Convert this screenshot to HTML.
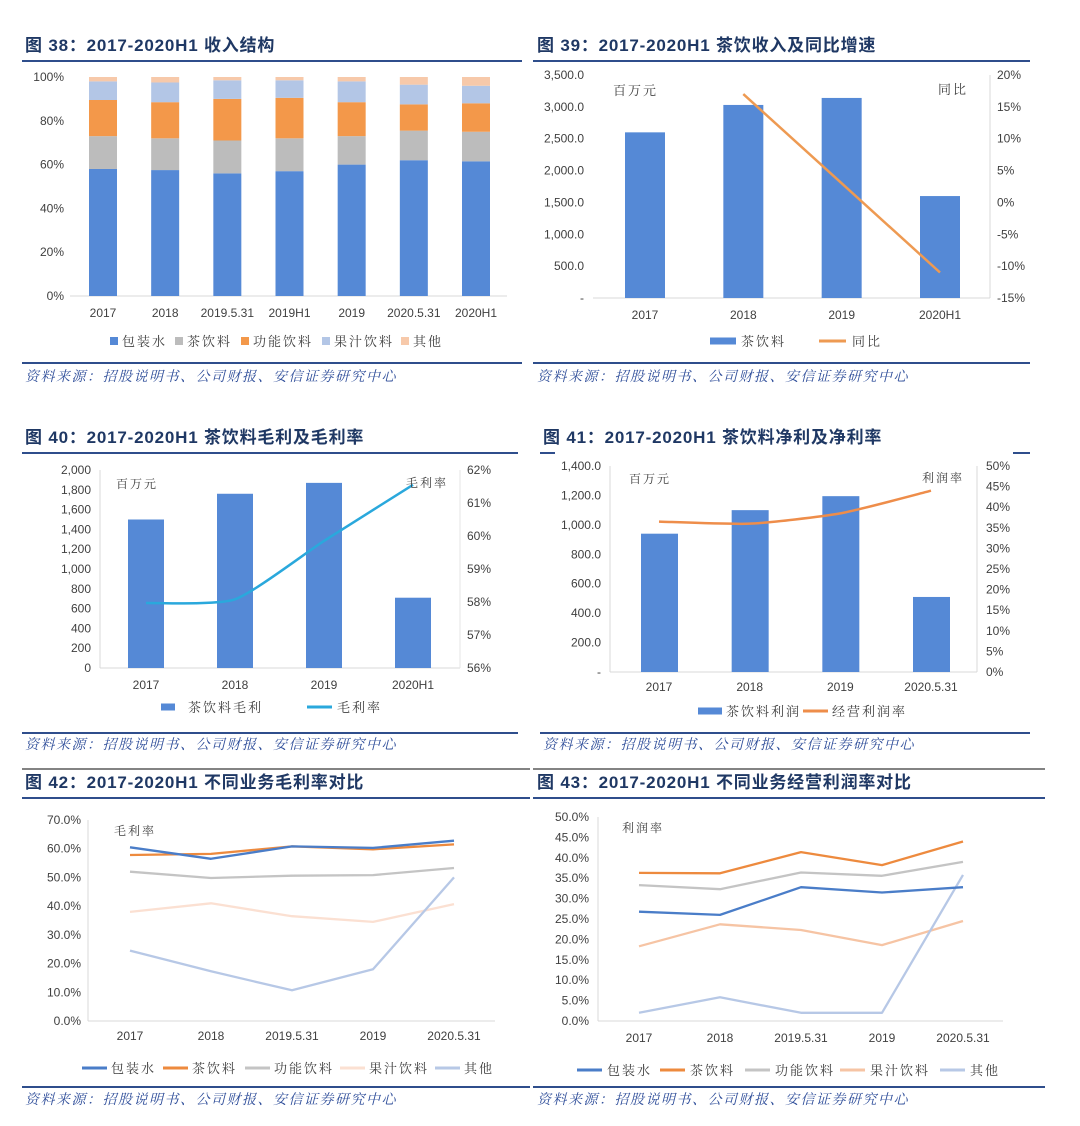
<!DOCTYPE html>
<html><head><meta charset="utf-8">
<style>
html,body{margin:0;padding:0;background:#fff;}
body{width:1080px;height:1126px;position:relative;overflow:hidden;font-family:"Liberation Sans","Noto Sans CJK SC",sans-serif;}
svg{position:absolute;left:0;top:0;}
</style></head>
<body>
<svg id="s" width="1080" height="1126" viewBox="0 0 1080 1126"></svg>
<script>
// ---- data ----
const cats38 = ['2017','2018','2019.5.31','2019H1','2019','2020.5.31','2020H1'];
const water38 = [58, 57.5, 56, 57, 60, 62, 61.5];
const tea38 = [15, 14.5, 15, 15, 13, 13.5, 13.5];
const func38 = [16.5, 16.5, 19, 18.5, 15.5, 12, 13];
const juice38 = [8.5, 9, 8.5, 8, 9.5, 9, 8];
const other38 = [2, 2.5, 1.5, 1.5, 2, 3.5, 4];
const ticks38 = ['0%','20%','40%','60%','80%','100%'];

const cats39 = ['2017','2018','2019','2020H1'];
const rev39 = [2600, 3030, 3140, 1600];
const yoy39 = [null, 17, 3, -11];
const ticksL39 = ['-','500.0','1,000.0','1,500.0','2,000.0','2,500.0','3,000.0','3,500.0'];
const ticksR39 = ['-15%','-10%','-5%','0%','5%','10%','15%','20%'];

const cats40 = ['2017','2018','2019','2020H1'];
const gp40 = [1500, 1760, 1870, 710];
const gm40 = [57.97, 58.08, 59.85, 61.55];
const ticksL40 = ['0','200','400','600','800','1,000','1,200','1,400','1,600','1,800','2,000'];
const ticksR40 = ['56%','57%','58%','59%','60%','61%','62%'];

const cats41 = ['2017','2018','2019','2020.5.31'];
const np41 = [940, 1100, 1195, 510];
const nm41 = [36.5, 36, 38.5, 44];
const ticksL41 = ['-','200.0','400.0','600.0','800.0','1,000.0','1,200.0','1,400.0'];
const ticksR41 = ['0%','5%','10%','15%','20%','25%','30%','35%','40%','45%','50%'];

const cats42 = ['2017','2018','2019.5.31','2019','2020.5.31'];
const water42 = [60.5, 56.5, 60.8, 60.3, 62.8];
const tea42 = [57.8, 58.2, 60.8, 59.8, 61.5];
const func42 = [52, 49.8, 50.6, 50.8, 53.3];
const juice42 = [38, 41, 36.5, 34.5, 40.7];
const other42 = [24.5, 17.3, 10.7, 18, 50];
const ticks42 = ['0.0%','10.0%','20.0%','30.0%','40.0%','50.0%','60.0%','70.0%'];

const cats43 = ['2017','2018','2019.5.31','2019','2020.5.31'];
const water43 = [26.8, 26, 32.8, 31.5, 32.8];
const tea43 = [36.3, 36.2, 41.4, 38.2, 44];
const func43 = [33.3, 32.3, 36.4, 35.6, 39];
const juice43 = [18.3, 23.7, 22.3, 18.6, 24.5];
const other43 = [2, 5.8, 2, 2, 35.8];
const ticks43 = ['0.0%','5.0%','10.0%','15.0%','20.0%','25.0%','30.0%','35.0%','40.0%','45.0%','50.0%'];

const segNames = ['包装水','茶饮料','功能饮料','果汁饮料','其他'];
</script>
<script>
const S = document.getElementById('s');
const NS = 'http://www.w3.org/2000/svg';
const C = {water:'#5589d6', tea:'#bcbcbc', func:'#f3984a', juice:'#b3c6e6', other:'#f7c9aa',
  lwater:'#4a7dc8', ltea:'#ed8a3e', lfunc:'#c4c4c4', ljuice:'#fbe0d2', lother:'#b7c8e6', bar:'#5589d6'};
const TXT = '#404040', CJK = '"Liberation Serif","Noto Serif CJK SC",serif';
function mk(tag, a, parent){const e=document.createElementNS(NS,tag);for(const k in a)e.setAttribute(k,a[k]);(parent||S).appendChild(e);return e;}
function txt(x,y,s,o){o=o||{};const e=mk('text',{x:x,y:y,'font-size':o.fs||12,fill:o.fill||TXT,'text-anchor':o.anchor||'start','font-family':o.ff||'"Liberation Sans","Noto Sans CJK SC",sans-serif','font-weight':o.fw||'normal','font-style':o.fst||'normal','letter-spacing':o.ls||0});e.textContent=s;return e;}
function lin(x1,y1,x2,y2,c,w){return mk('line',{x1:x1,y1:y1,x2:x2,y2:y2,stroke:c,'stroke-width':w||1});}
function lin2(a,b,min,max){return v=>a+(v-min)/(max-min)*(b-a);}

function header(x,y,t,ux1,ux2,uy){
  const e=txt(x,y,t,{fs:17,fw:'bold',fill:'#1f3864',ls:0.8});
  
  
  if(ux1!=null){const l=lin(ux1,uy,ux2,uy,'#2f4e8c',2);
  
  }
}
function source(x,y,lx1,lx2,ly){
  const l=lin(lx1,ly,lx2,ly,'#2f4e8c',2);
  
  
  const e=txt(x,y,'资料来源：招股说明书、公司财报、安信证券研究中心',{fs:14,fst:'italic',fill:'#2f4e9a',ff:CJK,ls:1.5});
  
  
}
function yTicks(ticks,y0,y1,x,anchor,name){
  ticks.forEach((t,i)=>{const y=y0+(y1-y0)*i/(ticks.length-1);
    const e=txt(x,y+4,t,{anchor:anchor,fs:12});
    
    });
}
function xLabels(cats,xf,y){
  cats.forEach((c,i)=>{const e=txt(xf(i),y,c,{anchor:'middle',fs:12});
    
    });
}
function legBox(x,y,w,h,col,label,tx){
  const r=mk('rect',{x:x,y:y-h/2,width:w,height:h,fill:col});
  
  
  const e=txt(tx,y+5,label,{fs:13,ff:CJK,ls:2});
  
  
}
function legLine(x1,x2,y,col,label,tx){
  const l=lin(x1,y,x2,y,col,3);
  
  
  const e=txt(tx,y+5,label,{fs:13,ff:CJK,ls:2});
  
  
}
function polyline(xs,ys,col,w,name){
  let d='';xs.forEach((x,i)=>{d+=(d?' L':'M')+x.toFixed(1)+' '+ys[i].toFixed(1);});
  const p=mk('path',{d:d,fill:'none',stroke:col,'stroke-width':w||2.5,'stroke-linejoin':'round'});
  
  
}
function smooth(xs,ys,col,w,name){
  let d='M'+xs[0]+' '+ys[0];
  for(let i=0;i<xs.length-1;i++){
    const p0=[xs[Math.max(0,i-1)],ys[Math.max(0,i-1)]],p1=[xs[i],ys[i]],p2=[xs[i+1],ys[i+1]],p3=[xs[Math.min(xs.length-1,i+2)],ys[Math.min(xs.length-1,i+2)]];
    const t=0.1;
    d+=` C${p1[0]+(p2[0]-p0[0])*t} ${p1[1]+(p2[1]-p0[1])*t} ${p2[0]-(p3[0]-p1[0])*t} ${p2[1]-(p3[1]-p1[1])*t} ${p2[0]} ${p2[1]}`;
  }
  const p=mk('path',{d:d,fill:'none',stroke:col,'stroke-width':w||2.5});
  
  
}

// ===== Chart 38 =====
header(25,51,'图 38：2017-2020H1 收入结构',22,522,61);
(function(){
  const y=lin2(296,77,0,100), x0=103, step=(476-103)/6, xf=i=>x0+i*step;
  lin(70,296,507,296,'#d9d9d9',1);
  yTicks(ticks38,300-4,81-4,64,'end','y-tick-label');
  const series=[[water38,C.water,'bar-water'],[tea38,C.tea,'bar-tea'],[func38,C.func,'bar-functional'],[juice38,C.juice,'bar-juice'],[other38,C.other,'bar-other']];
  cats38.forEach((c,i)=>{
    let acc=0;
    series.forEach(s=>{const v=s[0][i];
      const r=mk('rect',{x:xf(i)-14,y:y(acc+v),width:28,height:y(acc)-y(acc+v),fill:s[1]});
      
      
      acc+=v;});
  });
  xLabels(cats38,xf,317);
  const cols=[C.water,C.tea,C.func,C.juice,C.other], lx=[110,175,241,322,401];
  segNames.forEach((n,i)=>legBox(lx[i],341,8,8,cols[i],n,lx[i]+12));
  source(25,381,22,522,363);
})();

// ===== Chart 39 =====
header(537,51,'图 39：2017-2020H1 茶饮收入及同比增速',533,1030,61);
(function(){
  const yl=lin2(298,75,0,3500), yr=lin2(298,75,-15,20), x0=645, step=(940-645)/3, xf=i=>x0+i*step;
  lin(593,298,990,298,'#d9d9d9',1); lin(990,75,990,298,'#d9d9d9',1);
  yTicks(ticksL39,302-4,79-4,584,'end','y-left-tick-label');
  yTicks(ticksR39,302-4,79-4,997,'start','y-right-tick-label');
  rev39.forEach((v,i)=>{const r=mk('rect',{x:xf(i)-20,y:yl(v),width:40,height:yl(0)-yl(v),fill:C.bar});
    
    });
  const xs=[],ys=[];yoy39.forEach((v,i)=>{if(v!==null){xs.push(xf(i));ys.push(yr(v));}});
  polyline(xs,ys,'#ee9a52',2.5,'line-yoy');
  let e=txt(613,95,'百万元',{fs:13,ff:CJK,ls:2});
  
  
  e=txt(938,94,'同比',{fs:13,ff:CJK,ls:2});
  
  
  xLabels(cats39,xf,319);
  legBox(710,341,26,7,C.bar,'茶饮料',741);
  legLine(819,846,341,'#ee9a52','同比',852);
  source(537,381,533,1030,363);
})();

// ===== Chart 40 =====
header(25,443,'图 40：2017-2020H1 茶饮料毛利及毛利率',22,518,453);
(function(){
  const yl=lin2(668,470,0,2000), yr=lin2(668,470,56,62), x0=146, step=(413-146)/3, xf=i=>x0+i*step;
  lin(100,668,460,668,'#d9d9d9',1); lin(100,470,100,668,'#d9d9d9',1); lin(460,470,460,668,'#e6e6e6',1);
  yTicks(ticksL40,672-4,474-4,91,'end','y-left-tick-label');
  yTicks(ticksR40,672-4,474-4,467,'start','y-right-tick-label');
  gp40.forEach((v,i)=>{const r=mk('rect',{x:xf(i)-18,y:yl(v),width:36,height:yl(0)-yl(v),fill:C.bar});
    
    });
  smooth(gm40.map((v,i)=>xf(i)),gm40.map(v=>yr(v)),'#2aa8dc',2.5,'line-gross-margin');
  let e=txt(116,488,'百万元',{fs:12,ff:CJK,ls:2});
  
  
  e=txt(406,487,'毛利率',{fs:12,ff:CJK,ls:2});
  
  
  xLabels(cats40,xf,689);
  legBox(161,707,14,7,C.bar,'茶饮料毛利',188);
  legLine(307,332,707,'#2aa8dc','毛利率',337);
  source(25,749,22,518,733);
})();

// ===== Chart 41 =====
header(543,443,'图 41：2017-2020H1 茶饮料净利及净利率',null);
(function(){
  let l=lin(540,453,555,453,'#2f4e8c',2);
  
  
  l=lin(1013,453,1030,453,'#2f4e8c',2);
  
  
  const yl=lin2(672,466,0,1400), yr=lin2(672,466,0,50), x0=659, step=(931-659)/3, xf=i=>x0+i*step;
  lin(610,672,977,672,'#d9d9d9',1); lin(610,466,610,672,'#d9d9d9',1); lin(977,466,977,672,'#d9d9d9',1);
  yTicks(ticksL41,676-4,470-4,601,'end','y-left-tick-label');
  yTicks(ticksR41,676-4,470-4,986,'start','y-right-tick-label');
  np41.forEach((v,i)=>{const r=mk('rect',{x:xf(i)-18,y:yl(v),width:37,height:yl(0)-yl(v),fill:C.bar});
    
    });
  smooth(nm41.map((v,i)=>xf(i)),nm41.map(v=>yr(v)),'#ee8d4a',2.5,'line-operating-margin');
  let e=txt(629,483,'百万元',{fs:12,ff:CJK,ls:2});
  
  
  e=txt(922,482,'利润率',{fs:12,ff:CJK,ls:2});
  
  
  xLabels(cats41,xf,691);
  legBox(698,711,24,7,C.bar,'茶饮料利润',726);
  legLine(803,828,711,'#ee8d4a','经营利润率',832);
  source(543,749,540,1030,733);
})();

// ===== Chart 42 =====
(function(){
  let l=lin(22,769,530,769,'#5a5a5a',1.5);
  
  
})();
header(25,788,'图 42：2017-2020H1 不同业务毛利率对比',22,530,798);
(function(){
  const y=lin2(1021,820,0,70), x0=130, step=(454-130)/4, xf=i=>x0+i*step;
  lin(88,1021,495,1021,'#d9d9d9',1); lin(88,820,88,1021,'#d9d9d9',1);
  yTicks(ticks42,1025-4,824-4,81,'end','y-tick-label');
  const ss=[[juice42,C.ljuice,'line-juice'],[other42,C.lother,'line-other'],[func42,C.lfunc,'line-functional'],[tea42,C.ltea,'line-tea'],[water42,C.lwater,'line-water']];
  ss.forEach(s=>polyline(s[0].map((v,i)=>xf(i)),s[0].map(v=>y(v)),s[1],2.3,s[2]));
  let e=txt(114,835,'毛利率',{fs:12,ff:CJK,ls:2});
  
  
  xLabels(cats42,xf,1040);
  const cols=[C.lwater,C.ltea,C.lfunc,C.ljuice,C.lother], lx=[82,163,245,340,435];
  segNames.forEach((n,i)=>legLine(lx[i],lx[i]+25,1068,cols[i],n,lx[i]+29));
  source(25,1104,22,530,1087);
})();

// ===== Chart 43 =====
(function(){
  let l=lin(533,769,1045,769,'#5a5a5a',1.5);
  
  
})();
header(537,788,'图 43：2017-2020H1 不同业务经营利润率对比',533,1045,798);
(function(){
  const y=lin2(1021,817,0,50), x0=639, step=(963-639)/4, xf=i=>x0+i*step;
  lin(598,1021,1003,1021,'#d9d9d9',1); lin(598,817,598,1021,'#d9d9d9',1);
  yTicks(ticks43,1025-4,821-4,589,'end','y-tick-label');
  const ss=[[juice43,'#f6c4a4','line-juice'],[other43,C.lother,'line-other'],[func43,C.lfunc,'line-functional'],[tea43,C.ltea,'line-tea'],[water43,C.lwater,'line-water']];
  ss.forEach(s=>polyline(s[0].map((v,i)=>xf(i)),s[0].map(v=>y(v)),s[1],2.3,s[2]));
  let e=txt(622,832,'利润率',{fs:12,ff:CJK,ls:2});
  
  
  xLabels(cats43,xf,1042);
  const cols=[C.lwater,C.ltea,C.lfunc,'#f6c4a4',C.lother], lx=[577,660,745,840,940];
  segNames.forEach((n,i)=>legLine(lx[i],lx[i]+25,1070,cols[i],n,lx[i]+30));
  source(537,1104,533,1045,1087);
})();
</script>
</body></html>
